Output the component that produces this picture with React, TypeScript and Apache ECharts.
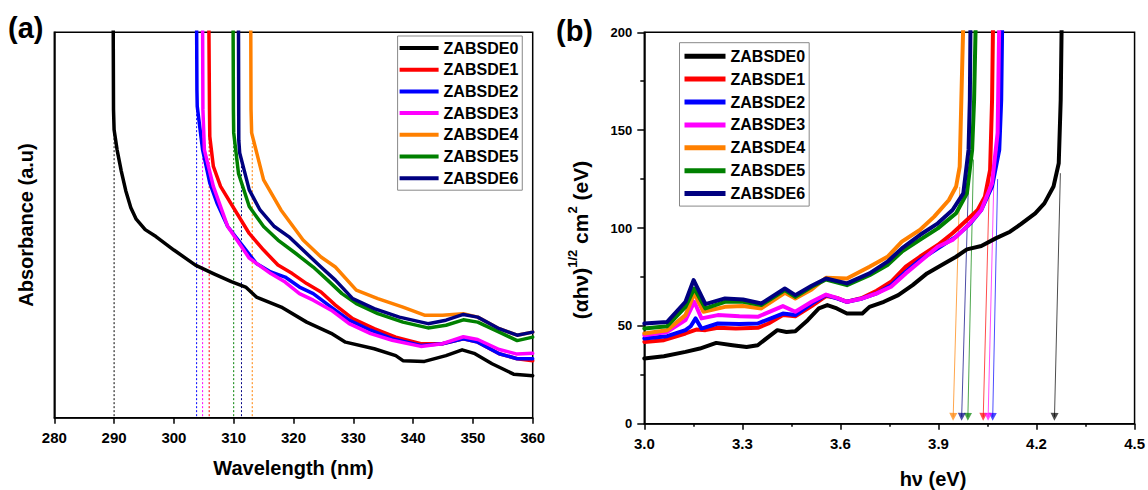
import React, { useEffect, useRef } from "react";
import * as echarts from "echarts";

const FONT = "'Liberation Sans', Arial, sans-serif";

const seriesNames = ["ZABSDE0", "ZABSDE1", "ZABSDE2", "ZABSDE3", "ZABSDE4", "ZABSDE5", "ZABSDE6"];
const seriesColors = ["#000000", "#ff0000", "#0000ff", "#ff00ff", "#ff8000", "#008000", "#000080"];

// (a) Absorbance vs wavelength (nm), arbitrary units
const abs0 = [[289.85,1.02],[289.9,0.8],[290.0,0.747],[290.5,0.695],[291.2,0.64],[291.95,0.589],[292.8,0.545],[293.7,0.515],[295.2,0.488],[297.0,0.47],[300.0,0.435],[303.6,0.396],[306.6,0.374],[309.6,0.353],[312.0,0.339],[313.8,0.313],[317.95,0.287],[322.2,0.248],[326.3,0.219],[328.7,0.196],[333.5,0.179],[337.1,0.161],[338.3,0.148],[341.9,0.146],[345.5,0.161],[348.2,0.176],[350.2,0.167],[353.2,0.14],[356.8,0.113],[360,0.109]];
const abs1 = [[305.85,1.02],[305.95,0.8],[306.0,0.73],[306.6,0.652],[307.8,0.6],[310.2,0.539],[312.6,0.478],[315.0,0.435],[317.4,0.396],[319.8,0.374],[322.2,0.348],[324.6,0.326],[327.0,0.292],[329.9,0.257],[333.5,0.231],[337.1,0.209],[341.3,0.192],[344.9,0.192],[348.4,0.205],[350.8,0.196],[354.4,0.166],[357.4,0.153],[360,0.148]];
const abs2 = [[303.8,1.02],[303.85,0.85],[303.9,0.808],[304.8,0.695],[306.0,0.609],[307.2,0.557],[309.0,0.496],[311.4,0.448],[313.8,0.4],[316.2,0.378],[318.6,0.365],[321.0,0.339],[323.3,0.322],[326.3,0.287],[329.3,0.253],[332.9,0.227],[336.5,0.205],[341.3,0.1875],[344.9,0.192],[348.4,0.205],[350.8,0.196],[354.4,0.166],[357.4,0.153],[360,0.153]];
const abs3 = [[304.8,1.02],[304.85,0.8],[305.1,0.695],[306.6,0.6],[309.0,0.496],[312.6,0.414],[316.2,0.374],[318.6,0.352],[321.0,0.322],[323.3,0.305],[326.3,0.279],[329.3,0.244],[332.9,0.218],[336.5,0.201],[341.3,0.185],[344.9,0.192],[348.4,0.21],[350.8,0.203],[354.4,0.177],[357.4,0.165],[360,0.167]];
const abs4 = [[312.85,1.02],[312.9,0.8],[313.0,0.739],[315.0,0.617],[317.9,0.539],[321.6,0.461],[324.6,0.417],[327.0,0.391],[330.5,0.331],[334.1,0.309],[338.3,0.287],[341.9,0.266],[344.9,0.266],[348.4,0.27],[350.8,0.261],[354.4,0.231],[357.4,0.214],[360,0.222]];
const abs5 = [[309.9,1.02],[309.95,0.8],[310.0,0.739],[310.8,0.634],[312.6,0.548],[315.0,0.496],[317.4,0.461],[320.4,0.426],[323.3,0.391],[325.7,0.357],[328.1,0.322],[330.5,0.296],[334.1,0.27],[338.3,0.248],[342.5,0.233],[345.5,0.24],[348.4,0.254],[350.8,0.248],[354.4,0.222],[357.4,0.2],[360,0.209]];
const abs6 = [[310.8,1.02],[310.85,0.72],[311.0,0.687],[312.6,0.591],[314.4,0.539],[316.8,0.496],[319.2,0.47],[322.2,0.426],[324.6,0.391],[327.0,0.357],[329.9,0.309],[333.5,0.283],[337.7,0.261],[342.5,0.244],[345.5,0.253],[348.4,0.268],[350.8,0.261],[354.4,0.231],[357.4,0.214],[360,0.222]];
const absorbance = [abs0, abs1, abs2, abs3, abs4, abs5, abs6];

// absorption edges (nm) and where the dotted guides meet the curves
const edgeWavelength = [290.0, 305.9, 303.8, 304.8, 313.1, 310.0, 311.3];
const edgeGuideTop = [0.747, 1.0, 0.825, 0.75, 0.713, 0.75, 0.669];

// (b) Tauc plot: hν (eV) vs (αhν)^1/2
const tauc0 = [[3.0,33.3],[3.06,34.5],[3.126,36.7],[3.17,38.4],[3.22,41.3],[3.27,40.1],[3.313,39.2],[3.347,40.1],[3.38,44.4],[3.407,47.8],[3.435,46.9],[3.462,47.3],[3.5,52.9],[3.534,58.9],[3.56,60.6],[3.589,58.9],[3.62,56.3],[3.667,56.3],[3.689,59.7],[3.733,62.3],[3.777,65.7],[3.821,70.8],[3.865,76.8],[3.91,81.1],[3.954,85.3],[3.987,89.1],[4.031,90.8],[4.075,94.7],[4.119,98.1],[4.152,102.0],[4.196,107.5],[4.224,112.6],[4.252,121.2],[4.268,133.1],[4.274,165.5],[4.277,205]];
const tauc1 = [[3.0,41.8],[3.06,42.7],[3.126,46.1],[3.159,48.1],[3.187,47.8],[3.225,49.0],[3.28,48.6],[3.347,49.0],[3.38,51.2],[3.424,55.5],[3.462,54.9],[3.512,60.1],[3.556,65.2],[3.589,64.3],[3.62,62.3],[3.667,64.3],[3.711,67.9],[3.755,72.5],[3.8,80.2],[3.843,85.3],[3.898,91.3],[3.943,97.3],[3.987,104.1],[4.02,109.2],[4.042,116.0],[4.058,129.7],[4.064,165.5],[4.067,205]];
const tauc2 = [[3.0,43.5],[3.07,44.7],[3.126,47.8],[3.142,49.8],[3.157,53.8],[3.175,48.6],[3.225,51.2],[3.291,50.9],[3.347,51.2],[3.424,56.3],[3.462,55.5],[3.512,61.4],[3.556,65.7],[3.589,64.0],[3.62,62.3],[3.667,64.0],[3.711,66.6],[3.755,70.8],[3.8,77.6],[3.843,83.6],[3.898,89.6],[3.954,95.6],[3.998,102.4],[4.031,109.2],[4.064,121.2],[4.086,139.9],[4.092,165.5],[4.095,205]];
const tauc3 = [[3.0,45.2],[3.07,46.9],[3.126,52.9],[3.153,62.3],[3.175,53.8],[3.225,55.5],[3.291,54.9],[3.347,54.6],[3.424,60.1],[3.462,57.2],[3.512,62.3],[3.556,66.0],[3.589,64.3],[3.62,62.3],[3.667,64.0],[3.711,66.6],[3.755,70.0],[3.8,76.8],[3.843,82.8],[3.898,90.4],[3.943,93.9],[3.987,100.7],[4.031,109.2],[4.064,122.9],[4.081,148.5],[4.086,205]];
const tauc4 = [[3.0,46.1],[3.07,47.8],[3.126,55.5],[3.153,66.6],[3.181,57.2],[3.247,59.7],[3.302,60.1],[3.358,58.9],[3.43,66.9],[3.462,64.0],[3.512,68.6],[3.556,74.6],[3.62,74.2],[3.689,80.2],[3.744,85.3],[3.788,93.0],[3.843,99.0],[3.887,105.8],[3.932,114.3],[3.954,121.2],[3.965,131.4],[3.97,165.5],[3.976,205]];
const tauc5 = [[3.0,48.6],[3.07,49.8],[3.126,59.7],[3.153,69.1],[3.187,58.9],[3.247,62.3],[3.302,62.3],[3.358,60.6],[3.43,68.3],[3.462,64.8],[3.512,70.0],[3.556,73.7],[3.62,70.8],[3.689,75.9],[3.744,81.1],[3.788,87.9],[3.843,93.9],[3.898,99.8],[3.954,107.5],[3.987,117.7],[4.003,139.9],[4.009,165.5],[4.014,205]];
const tauc6 = [[3.0,51.2],[3.07,52.0],[3.126,62.3],[3.151,73.4],[3.187,61.1],[3.247,64.0],[3.302,63.5],[3.358,61.4],[3.43,69.1],[3.462,65.7],[3.512,70.5],[3.556,74.2],[3.62,71.7],[3.689,76.8],[3.744,82.8],[3.788,89.6],[3.843,96.4],[3.898,102.4],[3.943,109.2],[3.976,117.7],[3.992,139.9],[3.996,165.5],[3.998,205]];
const tauc = [tauc0, tauc1, tauc2, tauc3, tauc4, tauc5, tauc6];

// band-gap arrows: start (eV, value) -> end (eV) on the axis
const gapArrowStartE = [4.273, 4.056, 4.081, 4.069, 3.965, 4.007, 3.992];
const gapArrowStartV = [128, 125, 125, 121, 121, 135, 125];
const bandGap = [4.255, 4.037, 4.066, 4.052, 3.945, 3.99, 3.971];

const axisLabelStyle = { color: "#000", fontWeight: "bold", fontFamily: FONT };

export default function App() {
  const ref = useRef<HTMLDivElement>(null);
  useEffect(() => {
    if (!ref.current) return;
    const chart = echarts.init(ref.current, undefined, { renderer: "svg" });

    const series: any[] = [];
    edgeWavelength.forEach((w, i) => {
      series.push({
        type: "line",
        name: "guide" + i,
        xAxisIndex: 0,
        yAxisIndex: 0,
        data: [[w, 0.004], [w, edgeGuideTop[i]]],
        showSymbol: false,
        silent: true,
        z: 1,
        lineStyle: { color: seriesColors[i], width: 1, type: [2, 2] },
      });
    });
    absorbance.forEach((d, i) => {
      series.push({
        type: "line",
        name: seriesNames[i],
        xAxisIndex: 0,
        yAxisIndex: 0,
        data: d,
        showSymbol: false,
        color: seriesColors[i],
        lineStyle: { width: 3.5, color: seriesColors[i], join: "round", cap: "round" },
      });
    });
    tauc.forEach((d, i) => {
      series.push({
        type: "line",
        name: seriesNames[i],
        xAxisIndex: 1,
        yAxisIndex: 1,
        data: d,
        showSymbol: false,
        color: seriesColors[i],
        lineStyle: { width: 4, color: seriesColors[i], join: "round", cap: "round" },
      });
    });
    series.push({
      type: "lines",
      name: "gaps",
      coordinateSystem: "cartesian2d",
      xAxisIndex: 1,
      yAxisIndex: 1,
      silent: true,
      symbol: ["none", "triangle"],
      symbolSize: 8,
      data: bandGap.map((g, i) => ({
        coords: [[gapArrowStartE[i], gapArrowStartV[i]], [g, 3.5]],
        lineStyle: { color: seriesColors[i], width: 1, opacity: 0.7 },
      })),
    });

    const legendCommon = {
      data: seriesNames,
      orient: "vertical",
      icon: "rect",
      selectedMode: false,
      borderColor: "#888",
      borderWidth: 1,
      backgroundColor: "#fff",
      textStyle: { color: "#000", fontWeight: "bold", fontFamily: FONT, fontSize: 16 },
    };

    chart.setOption({
      animation: false,
      backgroundColor: "#fff",
      grid: [
        { left: 54.3, top: 32.3, width: 478.4, height: 385.4, show: true, borderColor: "#000", borderWidth: 1.5 },
        { left: 644.3, top: 32.3, width: 491.4, height: 391.4, show: true, borderColor: "#000", borderWidth: 1.5 },
      ],
      xAxis: [
        {
          type: "value", gridIndex: 0, min: 280, max: 360, interval: 10,
          axisLine: { onZero: false, lineStyle: { color: "#000", width: 1.5 } },
          axisTick: { length: 6, lineStyle: { color: "#000", width: 1.5 } },
          axisLabel: { ...axisLabelStyle, fontSize: 15, margin: 12 },
          splitLine: { show: false },
        },
        {
          type: "value", gridIndex: 1, min: 3, max: 4.5, interval: 0.3,
          axisLine: { onZero: false, lineStyle: { color: "#000", width: 1.5 } },
          axisTick: { length: 6, lineStyle: { color: "#000", width: 1.5 } },
          minorTick: { show: true, splitNumber: 2, length: 3, lineStyle: { color: "#000", width: 1.5 } },
          axisLabel: { ...axisLabelStyle, fontSize: 15, margin: 12, formatter: (v: number) => v.toFixed(1) },
          splitLine: { show: false },
        },
      ],
      yAxis: [
        {
          type: "value", gridIndex: 0, min: 0, max: 1,
          axisLine: { show: true, onZero: false, lineStyle: { color: "#000", width: 1.5 } },
          axisTick: { show: false },
          axisLabel: { show: false },
          splitLine: { show: false },
        },
        {
          type: "value", gridIndex: 1, min: 0, max: 200, interval: 50,
          axisLine: { show: true, onZero: false, lineStyle: { color: "#000", width: 1.5 } },
          axisTick: { length: 7, lineStyle: { color: "#000", width: 1.5 } },
          minorTick: { show: true, splitNumber: 2, length: 4, lineStyle: { color: "#000", width: 1.5 } },
          axisLabel: { ...axisLabelStyle, fontSize: 13, margin: 12 },
          splitLine: { show: false },
        },
      ],
      legend: [
        {
          ...legendCommon,
          left: 397.6, top: 36,
          itemWidth: 39, itemHeight: 4, itemGap: 3.7,
          padding: [3, 4, 3, 2],
          textStyle: { ...legendCommon.textStyle, lineHeight: 18 },
        },
        {
          ...legendCommon,
          left: 679.5, top: 42.7,
          itemWidth: 41, itemHeight: 5, itemGap: 3.9,
          padding: [4, 4, 3, 5],
          textStyle: { ...legendCommon.textStyle, lineHeight: 19 },
        },
      ],
      graphic: [
        { type: "text", x: 8, y: 28, style: { text: "(a)", font: `bold 29px ${FONT}`, fill: "#000", verticalAlign: "middle" } },
        { type: "text", x: 556, y: 31, style: { text: "(b)", font: `bold 29px ${FONT}`, fill: "#000", verticalAlign: "middle" } },
        { type: "text", x: 26, y: 225, rotation: Math.PI / 2, style: { text: "Absorbance (a.u)", font: `bold 20px ${FONT}`, fill: "#000", align: "center", verticalAlign: "middle" } },
        { type: "text", x: 293.5, y: 468, style: { text: "Wavelength (nm)", font: `bold 20px ${FONT}`, fill: "#000", align: "center", verticalAlign: "middle" } },
        { type: "text", x: 933, y: 479, style: { text: "hν (eV)", font: `bold 20px ${FONT}`, fill: "#000", align: "center", verticalAlign: "middle" } },
        {
          type: "text", x: 578, y: 240, rotation: Math.PI / 2,
          style: {
            text: "{m|(αhν)}{s|1/2}{m| cm}{s|2}{m| (eV)}",
            align: "center", verticalAlign: "middle", fill: "#000",
            rich: {
              m: { fontSize: 21, fontWeight: "bold", fontFamily: FONT, lineHeight: 25, verticalAlign: "bottom", fill: "#000", color: "#000" },
              s: { fontSize: 13, fontWeight: "bold", fontFamily: FONT, lineHeight: 25, verticalAlign: "top", fill: "#000", color: "#000" },
            },
          },
        },
      ],
      series,
    });
    return () => chart.dispose();
  }, []);
  return <div ref={ref} style={{ position: "absolute", left: 0, top: 0, width: 1148, height: 490 }} />;
}
